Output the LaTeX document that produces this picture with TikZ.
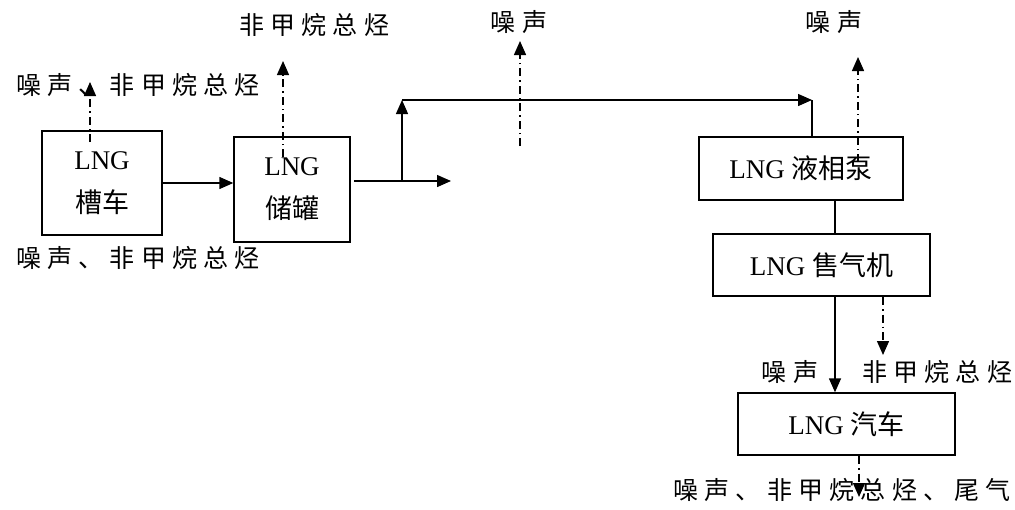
\documentclass[tikz,border=0pt]{standalone}
\usepackage{fontspec}
\setmainfont{Liberation Serif}
\newfontfamily\cjk{Noto Sans CJK SC}
\newfontfamily\cjklab[LetterSpace=25]{Noto Sans CJK SC}
\usetikzlibrary{arrows.meta}
\tikzset{
  unit/.style={draw,line width=1.4pt,align=center,inner sep=0pt,
    font=\fontsize{27}{43}\selectfont},
  flow/.style={line width=1.4pt,-{Triangle[length=14pt,width=12pt]}},
  emis/.style={line width=1.4pt,dash pattern=on 8pt off 4pt on 1.5pt off 4pt,
    -{Triangle[length=14pt,width=12pt]}},
  tag/.style={inner sep=0pt,font=\fontsize{25}{28}\selectfont\cjklab}
}
\begin{document}
\begin{tikzpicture}[x=1pt,y=-1pt]
        \useasboundingbox (0,0) rectangle (1015,509);
        % process units
        \node[unit,minimum width=120,minimum height=104] (tanker) at (102,183){LNG\\{\cjk 槽车}};
        \node[unit,minimum width=116,minimum height=105] (tank) at (292,189.5){LNG\\{\cjk 储罐}};
        \node[unit,minimum width=204,minimum height=63] (pump) at (801,168.5){LNG {\cjk 液相泵}};
        \node[unit,minimum width=217,minimum height=62] (disp) at (821.5,265){LNG {\cjk 售气机}};
        \node[unit,minimum width=217,minimum height=62] (car) at (846.5,424){LNG {\cjk 汽车}};
        % emission labels
        \node[tag] (tankerup) at (138,85){噪声、非甲烷总烃};
        \node[tag] (tankup) at (314,25){非甲烷总烃};
        \node[tag] (tankerdown) at (138,258){噪声、非甲烷总烃};
        \node[tag] (pipenoise) at (519,22){噪声};
        \node[tag] (pumpnoise) at (834,22){噪声};
        \node[tag] (dispnoise) at (790,372){噪声};
        \node[tag] (dispgas) at (937,372){非甲烷总烃};
        \node[tag] (carout) at (842,490){噪声、非甲烷总烃、尾气};
        % main flow
        \coordinate (tankout) at (354,181);
        \coordinate (split) at (402,181);
        \coordinate (spare) at (451,181);
        \coordinate (rise) at (402,100);
        \coordinate (turn) at (812,100);
        \coordinate (pipe) at (835,0);
        \draw[flow] (tanker.east) -- (tanker.east -| tank.west);
        \draw[flow] (tankout) -- (spare);
        \draw[flow] (split) -- (rise);
        \draw[flow] (rise) -- (turn);
        \draw[line width=1.4pt] (turn) -- (turn |- pump.north);
        \draw[line width=1.4pt] (pump.south -| pipe) -- (disp.north -| pipe);
        \draw[flow] (disp.south -| pipe) -- (car.north -| pipe);
        % emissions
        \coordinate (e1) at (90,142);   \coordinate (t1) at (90,82);
        \coordinate (e2) at (283,157);  \coordinate (t2) at (283,61);
        \coordinate (e3) at (520,146);  \coordinate (t3) at (520,41);
        \coordinate (e4) at (858,162);  \coordinate (t4) at (858,57);
        \coordinate (e5) at (883,297);  \coordinate (t5) at (883,355);
        \coordinate (e6) at (859,456);  \coordinate (t6) at (859,497);
        \draw[emis] (e1) -- (t1);
        \draw[emis] (e2) -- (t2);
        \draw[emis] (e3) -- (t3);
        \draw[emis] (e4) -- (t4);
        \draw[emis] (e5) -- (t5);
        \draw[emis] (e6) -- (t6);
      \end{tikzpicture}
\end{document}
